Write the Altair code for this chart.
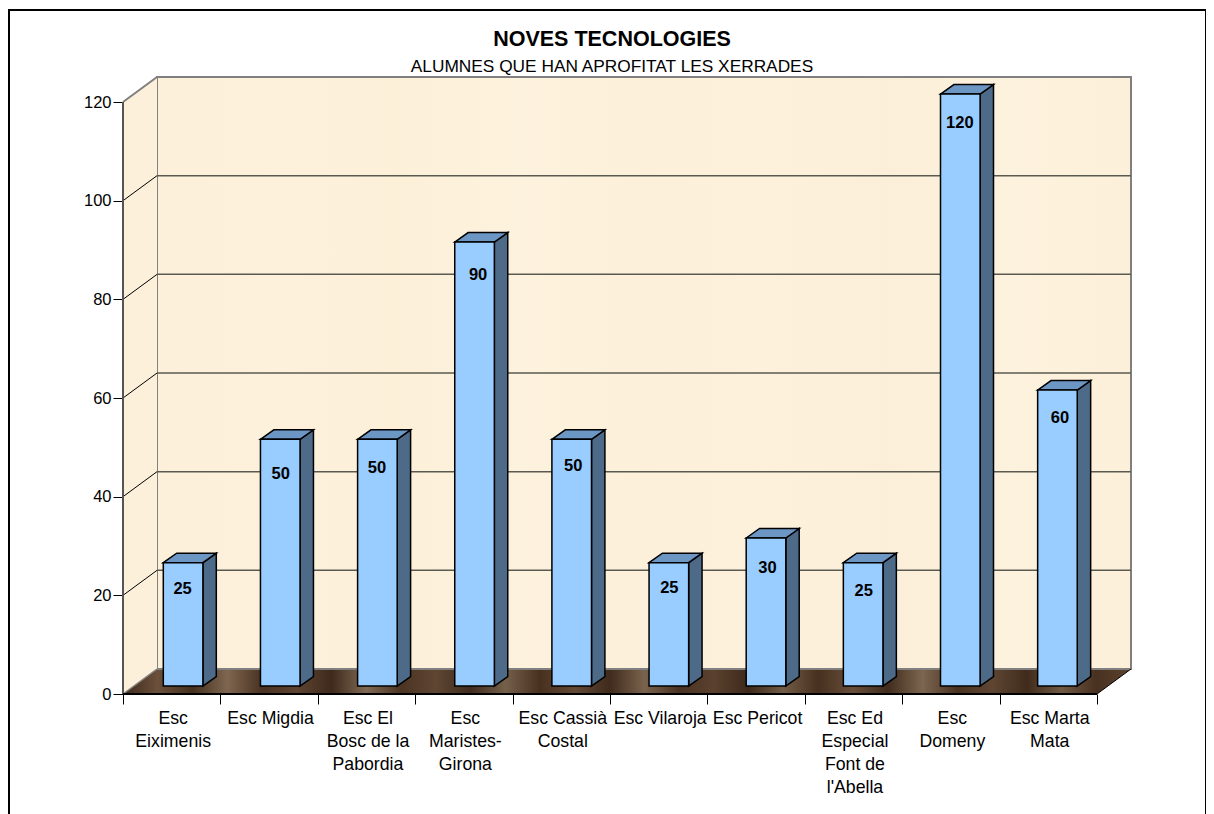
import altair as alt
import pandas as pd

CATEGORIES = ["Esc\nEiximenis", "Esc Migdia", "Esc El\nBosc de la\nPabordia", "Esc\nMaristes-\nGirona",
              "Esc Cassià\nCostal", "Esc Vilaroja", "Esc Pericot", "Esc Ed\nEspecial\nFont de\nl'Abella",
              "Esc\nDomeny", "Esc Marta\nMata"]
VALUES = [25, 50, 50, 90, 50, 25, 30, 25, 120, 60]
TICKS = [0, 20, 40, 60, 80, 100, 120]
TITLE = "NOVES TECNOLOGIES"
SUBTITLE = "ALUMNES QUE HAN APROFITAT LES XERRADES"

FONT = "Liberation Sans"
W, H = 1008, 617
N = len(VALUES)
PX_Y = 4.933
PX_X = 97.4
DEPTH_X = 34 / PX_X
DEPTH_Y = 25 / PX_Y
BAR_X0 = 40.3 / PX_X
BAR_STEP = 97.15 / PX_X
BAR_W = 39.6 / PX_X
BAR_DX = 13.4 / PX_X
BAR_DY = 9.5 / PX_Y
BAR_BASE = 8 / PX_Y
TOP = 120
LABEL_NUDGE_X = [-2, -1, -2, 2, 0, -1, 0, -1, -2, 1]
LABEL_NUDGE_Y = [-1, 8, 2, 6, 0, -2, 3, 1, 2, 1]

xs = alt.Scale(domain=[0, W / PX_X], nice=False, zero=False)
ys = alt.Scale(domain=[0, H / PX_Y], nice=False, zero=False)
XAX = alt.Axis(values=list(range(N + 1)), labels=False, title=None, domain=False, grid=False, ticks=True,
               tickColor="#000000", tickSize=10, tickWidth=1)
YAX = alt.Axis(values=TICKS, title=None, domain=False, grid=False, ticks=True, tickColor="#000000", tickSize=10,
               tickWidth=1, labelPadding=2, labelFont=FONT, labelFontSize=16.5, labelColor="#000000")


def X(f="x"):
    return alt.X(f"{f}:Q", scale=xs, axis=XAX)


def Y(f="y"):
    return alt.Y(f"{f}:Q", scale=ys, axis=YAX)


def poly(rows, **mk):
    d = pd.DataFrame(rows, columns=["g", "x", "y", "y2"])
    return alt.Chart(d).mark_area(**mk).encode(
        x=X(), y=Y(), y2=alt.Y2("y2:Q"), detail="g:N")


def lines(rows, **mk):
    d = pd.DataFrame(rows, columns=["g", "x", "y"])
    return alt.Chart(d).mark_line(**mk).encode(x=X(), y=Y(), detail="g:N")


def grad(colors):
    k = len(colors) - 1
    return {"gradient": "linear", "x1": 0, "x2": 1, "y1": 0, "y2": 0,
            "stops": [{"offset": i / k, "color": c} for i, c in enumerate(colors)]}


WALL = grad(["#FCF0DA", "#FDF1DC", "#FCF0D9", "#FDF2DD", "#FCF0DA", "#FDF1DC", "#FCEFD9", "#FDF2DD", "#FCF0DA"])
WALL_L = "#FCF0DA"
FLOOR = grad(["#3F2A1C", "#6B503B", "#45301F", "#7E6650", "#4A3222", "#5E4431", "#3E2A1B", "#806A55",
              "#4B3423", "#5F4633", "#402B1D", "#75604B", "#48301F", "#634A36", "#3F2A1C", "#7A634D",
              "#4A3323", "#5B412E", "#3D291B", "#725C47", "#47301F", "#684F3B", "#412C1D", "#7C6650",
              "#4A3222", "#5F4633", "#402B1C", "#705A45", "#483120", "#5C432F"])

back = poly([[0, DEPTH_X, DEPTH_Y, DEPTH_Y + TOP], [0, N + DEPTH_X, DEPTH_Y, DEPTH_Y + TOP]],
            fill=WALL, stroke="#808080", strokeWidth=2)
left = poly([[0, 0, 0, TOP], [0, DEPTH_X, DEPTH_Y, DEPTH_Y + TOP]], color=WALL_L)
left_edges = lines([[0, 0, TOP], [0, DEPTH_X, TOP + DEPTH_Y]], color="#808080", strokeWidth=2)
left_front = lines([[0, 0, 0], [0, 0, TOP]], color="#555555", strokeWidth=2)
floor = poly([[0, 0, 0, 0], [0, DEPTH_X, DEPTH_Y, 0], [0, N, DEPTH_Y, 0], [0, N + DEPTH_X, DEPTH_Y, DEPTH_Y]],
             fill=FLOOR)

grid_rows = []
side_rows = []
for t in TICKS[1:-1]:
    grid_rows += [[t, DEPTH_X, t + DEPTH_Y], [t, N + DEPTH_X, t + DEPTH_Y]]
    side_rows += [[t, 0, t], [t, DEPTH_X, t + DEPTH_Y]]
grid = lines(grid_rows, color="#5A5A50", strokeWidth=1.5)
side_grid = lines(side_rows, color="#000000", strokeWidth=1)
floor_left = lines([[0, 0, 0], [0, DEPTH_X, DEPTH_Y]], color="#808080", strokeWidth=1.5)
floor_right = lines([[0, N, 0], [0, N + DEPTH_X, DEPTH_Y]], color="#000000", strokeWidth=1)
floor_front = lines([[0, 0, 0], [0, N, 0]], color="#000000", strokeWidth=2)

fronts, sides, tops = [], [], []
for i, v in enumerate(VALUES):
    l = BAR_X0 + i * BAR_STEP
    r = l + BAR_W
    b = BAR_BASE
    t = b + v
    fronts.append({"x": l, "x2": r, "y": t, "y2": b, "v": v})
    sides += [[i, r, t, b], [i, r + BAR_DX, t + BAR_DY, b + BAR_DY]]
    tops += [[i, l, t, t], [i, l + BAR_DX, t + BAR_DY, t],
             [i, r, t + BAR_DY, t], [i, r + BAR_DX, t + BAR_DY, t + BAR_DY]]

bar_side = poly(sides, color="#4D6A88", stroke="#000000", strokeWidth=1.5)
bar_top = poly(tops, color="#6C96C4", stroke="#000000", strokeWidth=1.5)
df_f = pd.DataFrame(fronts)
bar_front = alt.Chart(df_f).mark_rect(color="#99CCFF", stroke="#000000", strokeWidth=1.5).encode(
    x=X(), x2="x2:Q", y=Y(), y2="y2:Q")
bar_labels = []
for i in range(N):
    bar_labels.append(
        alt.Chart(df_f.iloc[[i]]).mark_text(
            font=FONT, fontSize=16.5, fontWeight="bold", color="#000000", baseline="middle",
            dy=27 + LABEL_NUDGE_Y[i], dx=1.5 + LABEL_NUDGE_X[i]
        ).transform_calculate(xc="(datum.x+datum.x2)/2").encode(x=X("xc"), y=Y(), text="v:Q"))

cats = alt.Chart(pd.DataFrame({"x": [i + 0.515 for i in range(N)], "c": CATEGORIES})).mark_text(
    font=FONT, fontSize=17.7, color="#000000", baseline="top", lineBreak="\n", lineHeight=23, align="center"
).encode(x=X(), y=alt.value(H + 16), text="c:N")

frame_l = alt.Chart(pd.DataFrame({"a": [0]})).mark_rule(color="#000000", strokeWidth=2).encode(
    x=alt.value(-114), y=alt.value(-67), y2=alt.value(H + 120))
frame_t = alt.Chart(pd.DataFrame({"a": [0]})).mark_rule(color="#000000", strokeWidth=2).encode(
    x=alt.value(-115), x2=alt.value(1084), y=alt.value(-67))
frame_r = alt.Chart(pd.DataFrame({"a": [0]})).mark_rule(color="#000000", strokeWidth=2).encode(
    x=alt.value(1083), y=alt.value(-67), y2=alt.value(H + 120))

chart = alt.layer(
    frame_l, frame_t, frame_r,
    floor, back, left, grid, side_grid, left_edges, left_front, floor_left, floor_right, floor_front,
    bar_side, bar_top, bar_front, *bar_labels, cats
).properties(
    width=W, height=H,
    padding={"left": 115, "top": 69, "right": 75, "bottom": 120},
    autosize=alt.AutoSizeParams(type="none"),
    background="#FFFFFF",
    title=alt.TitleParams(text=TITLE, subtitle=SUBTITLE, anchor="middle", frame="group", dx=-15, offset=-66.5,
                          font=FONT, fontSize=21.5, fontWeight="bold", color="#000000",
                          subtitleFont=FONT, subtitleFontSize=17.3, subtitleColor="#000000", subtitlePadding=8.2),
).configure_view(stroke=None)

chart.save("out.html", embed_options={"renderer": "svg", "actions": False})
